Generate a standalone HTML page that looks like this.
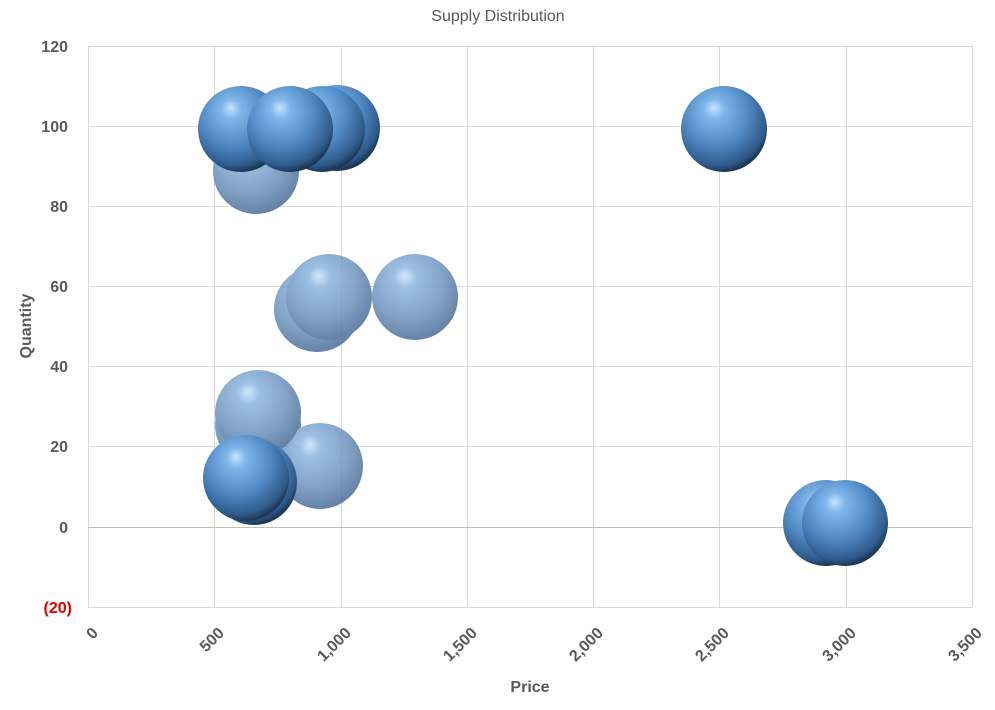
<!DOCTYPE html>
<html><head><style>
html,body{margin:0;padding:0;background:#fff;}
text{font-family:"Liberation Sans",sans-serif;}
</style></head><body>
<svg width="995" height="705" xmlns="http://www.w3.org/2000/svg">
<defs>
<radialGradient id="b" cx="0.42" cy="0.35" r="0.65" fx="0.38" fy="0.25">
<stop offset="0" stop-color="#c4e6ff"/>
<stop offset="0.18" stop-color="#7fb6ea"/>
<stop offset="0.6" stop-color="#4f87c2"/>
<stop offset="0.9" stop-color="#2f5a8a"/>
<stop offset="1" stop-color="#1c3858"/>
</radialGradient>
<radialGradient id="t" cx="0.42" cy="0.35" r="0.65" fx="0.38" fy="0.25">
<stop offset="0" stop-color="#c8e4fb"/>
<stop offset="0.2" stop-color="#8ab5de"/>
<stop offset="0.65" stop-color="#6d93bd"/>
<stop offset="1" stop-color="#4a6e98"/>
</radialGradient>
</defs>
<text x="498" y="21" font-size="16" fill="#595959" text-anchor="middle">Supply Distribution</text>
<g stroke="#d9d9d9" stroke-width="1">
<line x1="88" y1="46.5" x2="972" y2="46.5"/>
<line x1="88" y1="126.5" x2="972" y2="126.5"/>
<line x1="88" y1="206.5" x2="972" y2="206.5"/>
<line x1="88" y1="286.5" x2="972" y2="286.5"/>
<line x1="88" y1="366.5" x2="972" y2="366.5"/>
<line x1="88" y1="446.5" x2="972" y2="446.5"/>
<line x1="88" y1="607.5" x2="972" y2="607.5"/>
<line x1="88.5" y1="46" x2="88.5" y2="607"/>
<line x1="214.5" y1="46" x2="214.5" y2="607"/>
<line x1="341.5" y1="46" x2="341.5" y2="607"/>
<line x1="467.5" y1="46" x2="467.5" y2="607"/>
<line x1="593.5" y1="46" x2="593.5" y2="607"/>
<line x1="719.5" y1="46" x2="719.5" y2="607"/>
<line x1="846.5" y1="46" x2="846.5" y2="607"/>
<line x1="972.5" y1="46" x2="972.5" y2="607"/>
</g>
<line x1="88" y1="527.5" x2="972" y2="527.5" stroke="#bfbfbf"/>
<g font-size="16" font-weight="bold" fill="#595959" text-anchor="end">
<text x="68" y="52">120</text><text x="68" y="132">100</text><text x="68" y="212">80</text>
<text x="68" y="292">60</text><text x="68" y="372">40</text><text x="68" y="452">20</text>
<text x="68" y="533">0</text><text x="72" y="613" fill="#e00000">(20)</text>
</g>
<g font-size="16" font-weight="bold" fill="#595959" text-anchor="end">
<text transform="translate(99,634) rotate(-45)">0</text>
<text transform="translate(225,634) rotate(-45)">500</text>
<text transform="translate(352,634) rotate(-45)">1,000</text>
<text transform="translate(478,634) rotate(-45)">1,500</text>
<text transform="translate(604,634) rotate(-45)">2,000</text>
<text transform="translate(730,634) rotate(-45)">2,500</text>
<text transform="translate(857,634) rotate(-45)">3,000</text>
<text transform="translate(983,634) rotate(-45)">3,500</text>
</g>
<text x="530" y="692" font-size="16" font-weight="bold" fill="#595959" text-anchor="middle">Price</text>
<text transform="translate(31,326) rotate(-90)" font-size="16" font-weight="bold" fill="#595959" text-anchor="middle">Quantity</text>
<g opacity="0.85">
<circle cx="256" cy="171" r="43" fill="url(#t)"/>
<circle cx="317" cy="309" r="43" fill="url(#t)"/>
<circle cx="258" cy="425" r="43" fill="url(#t)"/>
<circle cx="320" cy="466" r="43" fill="url(#t)"/>
<circle cx="415" cy="297" r="43" fill="url(#t)"/>
<circle cx="329" cy="297" r="43" fill="url(#t)"/>
<circle cx="258" cy="413" r="43" fill="url(#t)"/>
</g>
<circle cx="337" cy="128" r="43" fill="url(#b)"/>
<circle cx="322" cy="129" r="43" fill="url(#b)"/>
<circle cx="241" cy="129" r="43" fill="url(#b)"/>
<circle cx="290" cy="129" r="43" fill="url(#b)"/>
<circle cx="724" cy="129" r="43" fill="url(#b)"/>
<circle cx="254" cy="482" r="43" fill="url(#b)"/>
<circle cx="246" cy="478" r="43" fill="url(#b)"/>
<circle cx="826" cy="523" r="43" fill="url(#b)"/>
<circle cx="845" cy="523" r="43" fill="url(#b)"/>
</svg>
</body></html>
